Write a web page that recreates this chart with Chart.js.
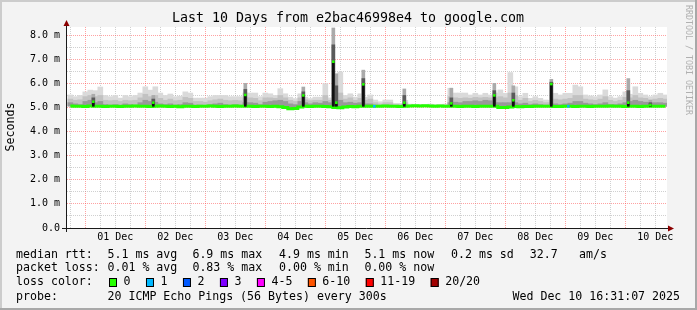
<!DOCTYPE html>
<html lang="en">
<head>
<meta charset="UTF-8">
<title>Last 10 Days from e2bac46998e4 to google.com</title>
<script src="https://cdn.jsdelivr.net/npm/chart.js"></script>
<style>
  body { margin: 0; background: #f3f3f3; }
  canvas { display: block; }
</style>
</head>
<body>
<canvas id="grafico" width="697" height="310"></canvas>
<script>
// hours since 01 Dec 00:00, one sample column every 2 hours
const times = [
  -6, -4, -2, 0, 2, 4, 6, 8, 10, 12,
  14, 16, 18, 20, 22, 24, 26, 28, 30, 32,
  34, 36, 38, 40, 42, 44, 46, 48, 50, 52,
  54, 56, 58, 60, 62, 64, 66, 68, 70, 72,
  74, 76, 78, 80, 82, 84, 86, 88, 90, 92,
  94, 96, 98, 100, 102, 104, 106, 108, 110, 112,
  114, 116, 118, 120, 122, 124, 126, 128, 130, 132,
  134, 136, 138, 140, 142, 144, 146, 148, 150, 152,
  154, 156, 158, 160, 162, 164, 166, 168, 170, 172,
  174, 176, 178, 180, 182, 184, 186, 188, 190, 192,
  194, 196, 198, 200, 202, 204, 206, 208, 210, 212,
  214, 216, 218, 220, 222, 224, 226, 228, 230, 232
];

// median rtt (ms)
const median = [
  5.06, 5.05, 5.05, 5.04, 5.06, 5.05, 5.05, 5.04, 5.05, 5.05,
  5.04, 5.05, 5.05, 5.06, 5.05, 5.05, 5.04, 5.05, 5.06, 5.05,
  5.04, 5.05, 5.03, 5.05, 5.05, 5.04, 5.05, 5.05, 5.06, 5.05,
  5.04, 5.05, 5.05, 5.06, 5.05, 5.05, 5.05, 5.04, 5.05, 5.05,
  5.04, 5.05, 5.03, 5.00, 4.95, 4.96, 5.02, 5.05, 5.04, 5.05,
  5.05, 5.04, 5.03, 5.00, 4.99, 5.02, 5.04, 5.03, 5.05, 5.05,
  5.05, 5.05, 5.05, 5.06, 5.05, 5.05, 5.04, 5.05, 5.06, 5.07,
  5.06, 5.07, 5.06, 5.05, 5.06, 5.05, 5.05, 5.05, 5.04, 5.05,
  5.05, 5.04, 5.05, 5.05, 5.05, 5.05, 5.00, 5.00, 5.02, 5.04,
  5.03, 5.04, 5.04, 5.05, 5.05, 5.05, 5.05, 5.04, 5.04, 5.05,
  5.05, 5.04, 5.05, 5.05, 5.04, 5.05, 5.05, 5.05, 5.06, 5.05,
  5.05, 5.04, 5.05, 5.05, 5.04, 5.05, 5.05, 5.05, 5.05, 5.05
];

// smoke: top of the light, middle and dark bands (ms)
const smokeLight = [
  5.52, 5.45, 5.50, 5.65, 5.72, 5.70, 5.85, 5.50, 5.45, 5.50,
  5.39, 5.50, 5.45, 5.50, 5.60, 5.86, 5.72, 5.86, 5.60, 5.50,
  5.56, 5.45, 5.47, 5.65, 5.60, 5.39, 5.39, 5.39, 5.45, 5.50,
  5.50, 5.50, 5.45, 5.45, 5.45, 5.60, 5.60, 5.60, 5.45, 5.60,
  5.57, 5.50, 5.78, 5.57, 5.43, 5.37, 5.57, 5.43, 5.37, 5.43,
  5.43, 5.99, 5.40, 5.60, 6.47, 5.50, 5.57, 5.43, 5.57, 5.43,
  5.52, 5.31, 5.24, 5.31, 5.31, 5.17, 5.17, 5.30, 5.14, 5.12,
  5.13, 5.12, 5.14, 5.12, 5.13, 5.14, 5.80, 5.60, 5.60, 5.60,
  5.52, 5.59, 5.52, 5.59, 5.52, 5.60, 5.73, 5.59, 6.45, 5.86,
  5.45, 5.59, 5.38, 5.45, 5.38, 5.31, 5.30, 5.59, 5.52, 5.59,
  5.59, 5.93, 5.86, 5.52, 5.48, 5.45, 5.52, 5.73, 5.45, 5.39,
  5.45, 5.65, 5.55, 5.86, 5.59, 5.52, 5.45, 5.52, 5.59, 5.52
];
const smokeMid = [
  5.35, 5.30, 5.32, 5.45, 5.50, 5.45, 5.50, 5.30, 5.28, 5.30,
  5.25, 5.30, 5.28, 5.30, 5.40, 5.55, 5.45, 5.50, 5.38, 5.30,
  5.35, 5.28, 5.30, 5.42, 5.38, 5.25, 5.25, 5.22, 5.28, 5.32,
  5.35, 5.30, 5.28, 5.30, 5.28, 5.40, 5.40, 5.38, 5.28, 5.40,
  5.40, 5.38, 5.50, 5.40, 5.30, 5.25, 5.40, 5.32, 5.28, 5.30,
  5.30, 5.50, 5.30, 5.45, 5.60, 5.35, 5.40, 5.30, 5.38, 5.30,
  5.35, 5.20, 5.15, 5.20, 5.20, 5.12, 5.12, 5.20, 5.10, 5.10,
  5.10, 5.10, 5.10, 5.10, 5.10, 5.10, 5.45, 5.40, 5.38, 5.40,
  5.38, 5.42, 5.40, 5.42, 5.40, 5.40, 5.45, 5.40, 5.60, 5.50,
  5.30, 5.38, 5.25, 5.30, 5.25, 5.20, 5.20, 5.35, 5.32, 5.35,
  5.38, 5.50, 5.50, 5.35, 5.32, 5.30, 5.35, 5.45, 5.30, 5.25,
  5.30, 5.42, 5.40, 5.50, 5.40, 5.38, 5.32, 5.35, 5.38, 5.35
];
const smokeDark = [
  5.20, 5.15, 5.12, 5.25, 5.30, 5.20, 5.25, 5.12, 5.10, 5.12,
  5.10, 5.15, 5.12, 5.10, 5.20, 5.30, 5.25, 5.22, 5.15, 5.12,
  5.15, 5.10, 5.12, 5.20, 5.18, 5.10, 5.10, 5.08, 5.12, 5.15,
  5.18, 5.12, 5.10, 5.12, 5.10, 5.20, 5.20, 5.18, 5.12, 5.22,
  5.25, 5.28, 5.30, 5.25, 5.15, 5.12, 5.25, 5.20, 5.15, 5.20,
  5.18, 5.25, 5.20, 5.30, 5.30, 5.20, 5.22, 5.18, 5.20, 5.15,
  5.15, 5.10, 5.08, 5.10, 5.10, 5.08, 5.08, 5.10, 5.07, 5.07,
  5.08, 5.07, 5.08, 5.07, 5.07, 5.08, 5.20, 5.22, 5.20, 5.25,
  5.25, 5.28, 5.25, 5.30, 5.28, 5.20, 5.20, 5.20, 5.20, 5.20,
  5.15, 5.18, 5.12, 5.15, 5.12, 5.10, 5.10, 5.15, 5.12, 5.15,
  5.18, 5.25, 5.25, 5.18, 5.15, 5.12, 5.15, 5.20, 5.12, 5.12,
  5.15, 5.20, 5.25, 5.30, 5.25, 5.22, 5.18, 5.20, 5.20, 5.18
];

// narrow jumps of the median
const baseline = 5.05;
const spikeTimes  = [3.2, 27.2, 64, 87.2, 99.2, 100.4, 111.2, 127.6, 146.4, 163.6, 171.2, 186.4, 217.2, 226];
const spikeMedian = [5.24, 5.20, 5.52, 5.50, 6.90, 5.20, 5.96, 5.20, 5.17, 5.50, 5.30, 5.97, 5.20, 5.10];
const spikeMid    = [5.40, 5.35, 5.75, 5.65, 7.60, 5.90, 6.20, 5.50, 5.40, 5.70, 5.60, 6.05, 5.70, 5.20];
const spikeTop    = [5.55, 5.50, 6.00, 5.85, 8.30, 6.40, 6.55, 5.77, 5.80, 6.00, 5.90, 6.17, 6.20, 5.30];

// samples with 1/20 lost
const lossTimes = [115.6, 193.2];
const lossValues = [5.05, 5.05];

const dayLabels = ['01 Dec', '02 Dec', '03 Dec', '04 Dec', '05 Dec', '06 Dec', '07 Dec', '08 Dec', '09 Dec', '10 Dec'];

const lossLabels = ['0', '1', '2', '3', '4-5', '6-10', '11-19', '20/20'];
const lossColors = ['#26ff00', '#00b8ff', '#0059ff', '#7e00ff', '#ff00ff', '#ff5500', '#ff0000', '#a10000'];

const mono = '"DejaVu Sans Mono", monospace';
const green = '#22ff00';
const red = 'rgba(255, 70, 70, 0.5)';
const gray = 'rgba(150, 150, 150, 0.45)';

function barras(xs, lo, hi) {
    return xs.map(function (x, i) {
        return { x: x, y: [Array.isArray(lo) ? lo[i] : lo, hi[i]] };
    });
}
function pontos(xs, ys) {
    return xs.map(function (x, i) { return { x: x, y: ys[i] }; });
}

const fundo = {
    id: 'fundo',
    beforeDraw(chart) {
        const ctx = chart.ctx;
        const a = chart.chartArea;
        ctx.save();
        ctx.fillStyle = '#f3f3f3';
        ctx.fillRect(0, 0, chart.width, chart.height);
        ctx.fillStyle = '#cccccc';
        ctx.fillRect(0, 0, chart.width, 2);
        ctx.fillRect(0, 0, 2, chart.height);
        ctx.fillStyle = '#a8a8a8';
        ctx.fillRect(0, chart.height - 2, chart.width, 2);
        ctx.fillRect(chart.width - 2, 0, 2, chart.height);
        ctx.fillStyle = '#ffffff';
        ctx.fillRect(a.left, a.top, a.right - a.left, a.bottom - a.top);
        ctx.restore();
    },
    afterDraw(chart) {
        const ctx = chart.ctx;
        const a = chart.chartArea;
        ctx.save();

        // axes
        ctx.strokeStyle = '#1a1a1a';
        ctx.lineWidth = 1;
        ctx.beginPath();
        ctx.moveTo(62, a.bottom + 0.5);
        ctx.lineTo(a.right + 4, a.bottom + 0.5);
        ctx.moveTo(a.left - 0.5, a.bottom + 4);
        ctx.lineTo(a.left - 0.5, a.top - 3);
        ctx.stroke();
        ctx.fillStyle = '#8b0000';
        ctx.beginPath();
        ctx.moveTo(a.left - 0.5, a.top - 7);
        ctx.lineTo(a.left - 3.5, a.top - 1);
        ctx.lineTo(a.left + 2.5, a.top - 1);
        ctx.fill();
        ctx.beginPath();
        ctx.moveTo(a.right + 7, a.bottom + 0.5);
        ctx.lineTo(a.right + 1, a.bottom - 2.5);
        ctx.lineTo(a.right + 1, a.bottom + 3.5);
        ctx.fill();

        // title
        ctx.fillStyle = '#000';
        ctx.textBaseline = 'middle';
        ctx.textAlign = 'center';
        ctx.font = '13.3px ' + mono;
        ctx.fillText('Last 10 Days from e2bac46998e4 to google.com', 348, 19);

        // y axis title
        ctx.save();
        ctx.translate(11, 127);
        ctx.rotate(-Math.PI / 2);
        ctx.font = '11.6px ' + mono;
        ctx.fillText('Seconds', 0, 0);
        ctx.restore();

        // watermark
        ctx.save();
        ctx.translate(688, 5);
        ctx.rotate(Math.PI / 2);
        ctx.textAlign = 'left';
        ctx.fillStyle = '#b0b0b0';
        ctx.font = '8.3px ' + mono;
        ctx.fillText('RRDTOOL / TOBI OETIKER', 0, 0);
        ctx.restore();

        // legend
        ctx.textAlign = 'left';
        ctx.font = '11.6px ' + mono;
        const linhas = [
            [255, [['median rtt:', 16], ['5.1 ms avg', 107.5], ['6.9 ms max', 192.4], ['4.9 ms min', 279],
                   ['5.1 ms now', 364.4], ['0.2 ms sd', 451], ['32.7', 529.8], ['am/s', 579]]],
            [268, [['packet loss:', 16], ['0.01 % avg', 107.5], ['0.83 % max', 192.4], ['0.00 % min', 279],
                   ['0.00 % now', 364.4]]],
            [282, [['loss color:', 16]]],
            [297, [['probe:', 16], ['20 ICMP Echo Pings (56 Bytes) every 300s', 107.5]]]
        ];
        linhas.forEach(function (l) {
            l[1].forEach(function (p) { ctx.fillText(p[0], p[1], l[0]); });
        });
        ctx.textAlign = 'right';
        ctx.fillText('Wed Dec 10 16:31:07 2025', 680, 297);

        ctx.textAlign = 'left';
        const cw = ctx.measureText('0').width;
        let x = 109;
        for (let i = 0; i < lossLabels.length; i++) {
            ctx.fillStyle = lossColors[i];
            ctx.fillRect(x, 278, 8, 9);
            ctx.strokeStyle = '#000';
            ctx.strokeRect(x + 0.5, 278.5, 7, 8);
            ctx.fillStyle = '#000';
            ctx.fillText(lossLabels[i], x + 14.5, 282);
            x = x + 14.5 + lossLabels[i].length * cw + 15.5;
        }
        ctx.restore();
    }
};

const config = {
    type: 'bar',
    data: {
        datasets: [
            { data: barras(times, median, smokeLight), backgroundColor: '#dadada', barThickness: 5, grouped: false, order: 10 },
            { data: barras(times, median, smokeMid), backgroundColor: '#c2c2c2', barThickness: 5, grouped: false, order: 9 },
            { data: barras(times, median, smokeDark), backgroundColor: '#999999', barThickness: 5, grouped: false, order: 8 },
            { data: barras(spikeTimes, baseline, spikeTop), backgroundColor: '#aaaaaa', barThickness: 3, grouped: false, order: 7 },
            { data: barras(spikeTimes, baseline, spikeMid), backgroundColor: '#5a5a5a', barThickness: 3, grouped: false, order: 6 },
            {
                type: 'line', data: pontos(times, median), borderColor: green, borderWidth: 3,
                stepped: 'middle', pointRadius: 0, order: 5
            },
            { data: barras(spikeTimes, baseline, spikeMedian), backgroundColor: '#111111', barThickness: 2, grouped: false, order: 4 },
            {
                type: 'line', data: pontos(spikeTimes, spikeMedian), showLine: false, pointStyle: 'rect',
                pointRadius: 1.8, pointBorderWidth: 0, pointBackgroundColor: green, order: 3
            },
            {
                type: 'line', data: pontos(lossTimes, lossValues), showLine: false, pointStyle: 'rect',
                pointRadius: 1.8, pointBorderWidth: 0, pointBackgroundColor: '#00b8ff', order: 2
            }
        ]
    },
    options: {
        responsive: false,
        animation: false,
        devicePixelRatio: 1,
        layout: { padding: { left: 0, right: 30, top: 27, bottom: 0 } },
        plugins: { legend: { display: false }, tooltip: { enabled: false } },
        scales: {
            x: {
                type: 'linear',
                offset: false,
                min: -7.33,
                max: 232.67,
                afterFit: function (s) { s.height = 82; },
                afterBuildTicks: function (s) {
                    const t = [];
                    for (let h = -6; h <= 228; h += 6) t.push({ value: h });
                    s.ticks = t;
                },
                grid: {
                    offset: false,
                    drawTicks: false,
                    color: function (c) { return c.tick && c.tick.value % 24 === 0 ? red : gray; }
                },
                border: { display: false, dash: [1, 1] },
                ticks: {
                    autoSkip: false,
                    maxRotation: 0,
                    padding: 3,
                    color: '#000',
                    font: { family: mono, size: 10 },
                    callback: function (v) { return v % 24 === 12 ? dayLabels[(v - 12) / 24] : ''; }
                }
            },
            y: {
                min: 0,
                max: 8.34,
                afterFit: function (s) { s.width = 67; },
                grid: {
                    drawTicks: false,
                    color: function (c) {
                        if (!c.tick || c.tick.value === 0) return 'rgba(0,0,0,0)';
                        return Number.isInteger(c.tick.value) ? red : gray;
                    }
                },
                border: { display: false, dash: [1, 1] },
                ticks: {
                    stepSize: 0.5,
                    includeBounds: false,
                    autoSkip: false,
                    padding: 7,
                    color: '#000',
                    font: { family: mono, size: 10 },
                    callback: function (v) {
                        if (!Number.isInteger(v)) return '';
                        return v === 0 ? '0.0' : v.toFixed(1) + ' m';
                    }
                }
            }
        }
    },
    plugins: [fundo]
};

const grafico = new Chart(document.getElementById('grafico'), config);
</script>
</body>
</html>
